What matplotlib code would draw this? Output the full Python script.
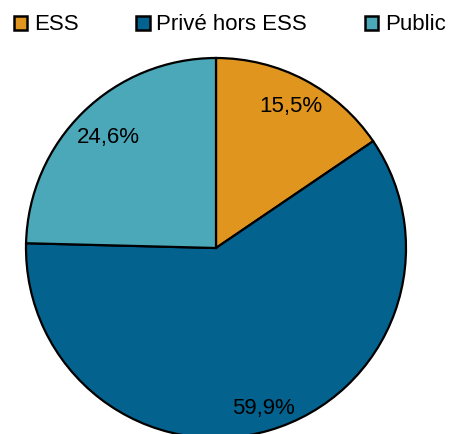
import numpy as np
import matplotlib
matplotlib.use('Agg')
import matplotlib.pyplot as plt
from matplotlib.patches import Patch

labels = ['ESS', 'Privé hors ESS', 'Public']
values = [15.5, 59.9, 24.6]
colors = ['#E0961E', '#04628F', '#4BA8B9']
label_dist = [0.845, 0.88, 0.815]

plt.rcParams['font.family'] = ['Liberation Sans', 'DejaVu Sans']

fig = plt.figure(figsize=(4.49, 4.34), dpi=100)
ax = fig.add_axes([26/449, -4/434, 380/449, 380/434])

wedges, _ = ax.pie(values, colors=colors, startangle=90, counterclock=False,
                   radius=1, wedgeprops=dict(edgecolor='black', linewidth=1.6))

for w, v, d in zip(wedges, values, label_dist):
    a = np.deg2rad((w.theta1 + w.theta2) / 2)
    txt = ('%.1f%%' % v).replace('.', ',')
    ax.text(d*np.cos(a), d*np.sin(a), txt, ha='center', va='center',
            fontsize=16, color='black')

ax.set_xlim(-1, 1)
ax.set_ylim(-1, 1)
ax.set_aspect('auto')
ax.axis('off')

handles = [Patch(facecolor=c, edgecolor='black', linewidth=1.8) for c in colors]
fig.legend(handles, labels, loc='center', bbox_to_anchor=(0.512, 1 - 25/434),
           ncol=3, frameon=False, fontsize=16, handlelength=0.6,
           handleheight=0.6, handletextpad=0.3, columnspacing=2.6)

fig.savefig('out.png', dpi=100)
